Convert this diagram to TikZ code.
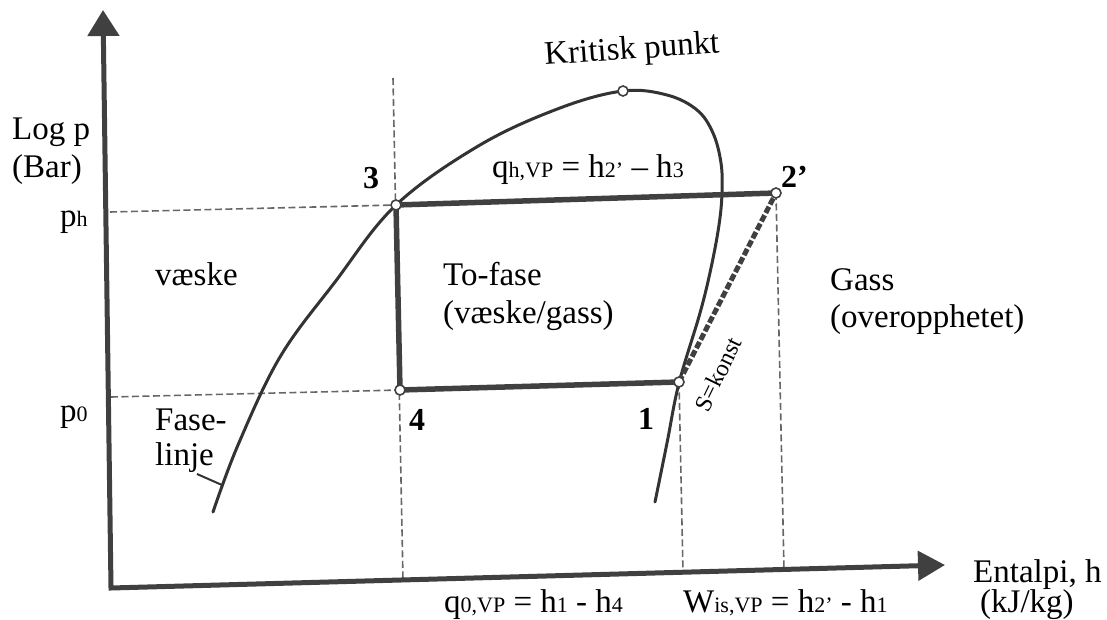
\documentclass[tikz,border=0pt]{standalone}
\usepackage{fontspec}
\setmainfont{Liberation Serif}
\usetikzlibrary{arrows.meta}
\newcommand\lowtxt[1]{{\fontsize{22}{22}\selectfont #1}}
\begin{document}
\begin{tikzpicture}[x=1pt,y=-1pt,
  axisline/.style={line width=5pt, draw=black!75, line join=miter},
  dome/.style={line width=3pt, draw=black!80, line cap=round},
  cyc/.style={line width=5.5pt, draw=black!75},
  guide/.style={line width=1.6pt, draw=black!60, dash pattern=on 7pt off 3.5pt},
  ptc/.style={circle, draw=black!75, fill=white, line width=1.6pt, minimum size=10pt, inner sep=0pt},
  lbl/.style={font=\fontsize{33}{38}\selectfont, inner sep=0pt, anchor=base west},
  num/.style={font=\fontsize{32}{36}\selectfont\bfseries, inner sep=0pt, anchor=base west}]
\useasboundingbox (0,0) rectangle (1107,620);
% coordinates
\coordinate (O) at (111,588);
\coordinate (Ytip) at (103,10);
\coordinate (Xtip) at (945,565);
\coordinate (c1) at (679,382);
\coordinate (c2) at (776,193);
\coordinate (c3) at (396,205);
\coordinate (c4) at (400,390);
\coordinate (ck) at (623,91);
\coordinate (phL) at (110,212);
\coordinate (p0L) at (111,397);
\coordinate (v3top) at (393,78);
\coordinate (v4bot) at (403,580);
\coordinate (v1bot) at (683,572);
\coordinate (v2bot) at (784,570);
\coordinate (tickA) at (197,474);
\coordinate (tickB) at (222,485);
% guides
\draw[guide] (phL) -- (c3);
\draw[guide] (p0L) -- (c4);
\draw[guide] (v3top) -- (v4bot);
\draw[guide] (c1) -- (v1bot);
\draw[guide] (c2) -- (v2bot);
% axes
\draw[axisline, {Triangle[length=26pt,width=31pt]}-{Triangle[length=27pt,width=29pt]}] (Ytip) -- (O) -- (Xtip);
% dome
\draw[dome] plot[smooth, tension=0.6] coordinates {(213,512) (238,445) (280,357) (335,282) (396,205) (480,145) (560,108) (623,91) (667,95) (697,110) (713,133) (721,163) (722,193) (719,225) (711,268) (700,313) (679,383) (667,443) (655,502)};
\draw[line width=2pt, draw=black!80] (tickA) -- (tickB);
% cycle
\draw[cyc] (c3) -- (c2);
\draw[cyc] (c3) -- (c4) -- (c1);
\draw[cyc, line width=5pt, dash pattern=on 7pt off 2.5pt] (c1) -- (c2);
% points
\node[ptc] (P1) at (c1) {};
\node[ptc] (P2) at (c2) {};
\node[ptc] (P3) at (c3) {};
\node[ptc] (P4) at (c4) {};
\node[ptc] (PK) at (ck) {};
% labels
\node[lbl] (logp) at (12,140) {Log p};
\node[lbl] (bar) at (12,178) {(Bar)};
\node[lbl] (ph) at (60,227) {p\lowtxt{h}};
\node[lbl] (p0) at (60,421) {p\lowtxt{0}};
\node[lbl] (vaeske) at (155,285) {væske};
\node[lbl] (fase) at (155,430) {Fase-};
\node[lbl] (linje) at (155,465) {linje};
\node[lbl] (tofase) at (443,285) {To-fase};
\node[lbl] (tofase2) at (443,323) {(væske/gass)};
\node[lbl] (gass) at (830,290) {Gass};
\node[lbl] (gass2) at (830,327) {(overopphetet)};
\node[lbl, rotate=4] (krit) at (545,65) {Kritisk punkt};
\node[lbl] (qh) at (492,178) {q\lowtxt{h,VP} = h\lowtxt{2’} – h\lowtxt{3}};
\node[lbl] (q0) at (444,612) {q\lowtxt{0,VP} = h\lowtxt{1} - h\lowtxt{4}};
\node[lbl] (wis) at (683,612) {W\lowtxt{is,VP} = h\lowtxt{2’} - h\lowtxt{1}};
\node[lbl] (ent) at (973,582) {Entalpi, h};
\node[lbl] (kj) at (980,612) {(kJ/kg)};
\node[font=\fontsize{24}{28}\selectfont, inner sep=0pt, rotate=64] (skonst) at (718,374) {S=konst};
\node[num] (n3) at (363,189) {3};
\node[num] (n2) at (781,188) {2’};
\node[num] (n4) at (409,430) {4};
\node[num] (n1) at (638,429) {1};
\end{tikzpicture}
\end{document}
